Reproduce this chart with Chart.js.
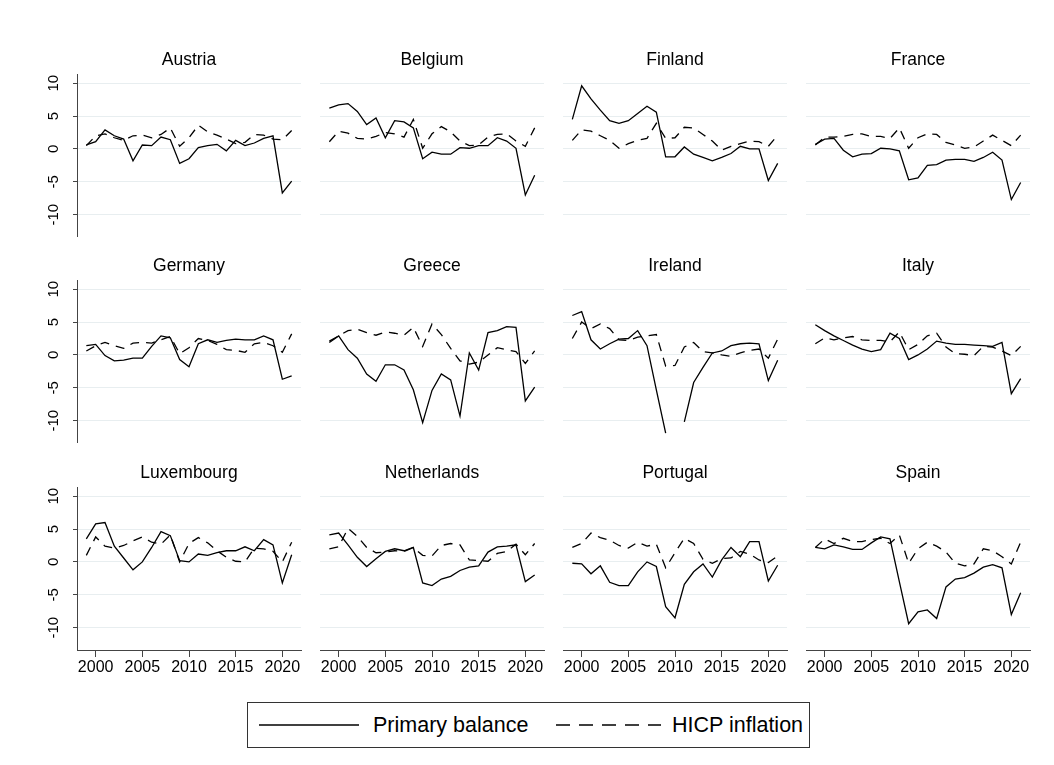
<!DOCTYPE html>
<html>
<head>
<meta charset="utf-8">
<title>Primary balance and HICP inflation</title>
<script src="https://cdn.jsdelivr.net/npm/chart.js@4.4.0/dist/chart.umd.min.js"></script>
<style>
  body { margin: 0; background: #fff; }
  #wrap { position: relative; width: 1054px; height: 765px; overflow: hidden; font-family: "Liberation Sans", Arial, sans-serif; }
  #wrap canvas { position: absolute; }
  #legend { position: absolute; left: 247px; top: 702px; width: 563px; height: 46px; border: 1px solid #333; box-sizing: border-box; }
  #legend svg { position: absolute; left: 0; top: 0; }
  #legend span { position: absolute; top: 0; line-height: 44px; font-size: 21.5px; color: #000; white-space: nowrap; }
</style>
</head>
<body>
<div id="wrap">
  <div id="legend">
    <svg width="561" height="44">
      <line x1="11" y1="22" x2="111" y2="22" stroke="#000" stroke-width="1.6"/>
      <line x1="308" y1="22" x2="413" y2="22" stroke="#000" stroke-width="1.6" stroke-dasharray="14 9"/>
    </svg>
    <span id="lab0" style="left:125px"></span>
    <span id="lab1" style="left:424px"></span>
  </div>
</div>
<script>
const years = [1999, 2000, 2001, 2002, 2003, 2004, 2005, 2006, 2007, 2008, 2009, 2010,
               2011, 2012, 2013, 2014, 2015, 2016, 2017, 2018, 2019, 2020, 2021];
const countries = ["Austria", "Belgium", "Finland", "France", "Germany", "Greece",
                   "Ireland", "Italy", "Luxembourg", "Netherlands", "Portugal", "Spain"];
const seriesLabels = ["Primary balance", "HICP inflation"];
const xTicks = [2000, 2005, 2010, 2015, 2020];
const yTicks = [-10, -5, 0, 5, 10];

// primary balance (solid) and HICP inflation (dashed), % , 1999-2021
const pbAustria = [0.6, 1.1, 2.9, 2.0, 1.5, -1.8, 0.6, 0.5, 1.8, 1.4, -2.2, -1.5, 0.2, 0.5, 0.7, -0.3, 1.3, 0.5, 0.9, 1.6, 2.0, -6.7, -4.9];
const hicpAustria = [0.5, 2.0, 2.3, 1.7, 1.3, 2.0, 2.1, 1.7, 2.2, 3.2, 0.4, 1.7, 3.6, 2.6, 2.1, 1.5, 0.8, 1.0, 2.2, 2.1, 1.5, 1.4, 2.8];
const pbBelgium = [6.2, 6.7, 6.9, 5.7, 3.7, 4.7, 1.7, 4.3, 4.1, 3.2, -1.5, -0.5, -0.8, -0.8, 0.2, 0.1, 0.5, 0.5, 1.7, 1.2, 0.1, -7.0, -4.0];
const hicpBelgium = [1.1, 2.7, 2.4, 1.6, 1.5, 1.9, 2.5, 2.3, 1.8, 4.5, 0.1, 2.3, 3.4, 2.6, 1.2, 0.5, 0.6, 1.8, 2.2, 2.3, 1.2, 0.4, 3.2];
const pbFinland = [4.5, 9.6, 7.6, 5.9, 4.3, 3.9, 4.3, 5.4, 6.5, 5.6, -1.2, -1.2, 0.3, -0.8, -1.3, -1.8, -1.3, -0.7, 0.4, 0.0, 0.0, -4.8, -2.2];
const hicpFinland = [1.3, 2.9, 2.7, 2.0, 1.3, 0.1, 0.8, 1.3, 1.6, 3.9, 1.6, 1.7, 3.3, 3.2, 2.2, 1.2, -0.2, 0.4, 0.8, 1.2, 1.1, 0.4, 2.1];
const pbFrance = [0.7, 1.5, 1.6, -0.2, -1.2, -0.8, -0.7, 0.1, 0.0, -0.3, -4.7, -4.4, -2.5, -2.4, -1.7, -1.6, -1.6, -1.9, -1.3, -0.5, -1.7, -7.7, -5.1];
const hicpFrance = [0.6, 1.8, 1.8, 1.9, 2.2, 2.3, 1.9, 1.9, 1.6, 3.2, 0.1, 1.7, 2.3, 2.2, 1.0, 0.6, 0.1, 0.3, 1.2, 2.1, 1.3, 0.5, 2.1];
const pbGermany = [1.4, 1.6, -0.1, -0.9, -0.8, -0.5, -0.5, 1.3, 2.9, 2.6, -0.7, -1.8, 1.7, 2.3, 1.9, 2.2, 2.4, 2.3, 2.3, 2.9, 2.3, -3.7, -3.2];
const hicpGermany = [0.6, 1.4, 1.9, 1.4, 1.0, 1.8, 1.9, 1.8, 2.3, 2.8, 0.2, 1.1, 2.5, 2.2, 1.6, 0.8, 0.7, 0.4, 1.7, 1.9, 1.4, 0.4, 3.2];
const pbGreece = [1.9, 2.9, 0.8, -0.5, -2.9, -4.0, -1.5, -1.5, -2.3, -5.3, -10.3, -5.4, -2.9, -3.8, -9.3, 0.3, -2.3, 3.4, 3.7, 4.3, 4.2, -7.0, -4.9];
const hicpGreece = [2.1, 2.9, 3.7, 3.9, 3.4, 3.0, 3.5, 3.3, 3.0, 4.2, 1.3, 4.7, 3.1, 1.0, -0.9, -1.4, -1.1, 0.0, 1.1, 0.8, 0.5, -1.3, 0.6];
const pbIreland = [6.0, 6.6, 2.3, 0.9, 1.7, 2.4, 2.5, 3.7, 1.4, -5.3, -11.9, null, -10.2, -4.2, -1.9, 0.3, 0.6, 1.4, 1.7, 1.8, 1.7, -3.9, -0.8];
const hicpIreland = [2.5, 5.0, 4.0, 4.7, 4.0, 2.3, 2.2, 2.7, 2.9, 3.1, -1.7, -1.6, 1.2, 1.9, 0.5, 0.3, 0.0, -0.2, 0.3, 0.7, 0.9, -0.5, 2.4];
const pbItaly = [4.6, 3.7, 2.9, 2.2, 1.5, 0.9, 0.5, 0.8, 3.3, 2.5, -0.7, 0.0, 0.9, 2.1, 1.8, 1.6, 1.6, 1.5, 1.4, 1.3, 1.9, -5.9, -3.6];
const hicpItaly = [1.7, 2.6, 2.3, 2.6, 2.8, 2.3, 2.2, 2.2, 2.0, 3.5, 0.8, 1.6, 2.9, 3.3, 1.2, 0.2, 0.1, -0.1, 1.3, 1.2, 0.6, -0.1, 1.3];
const pbLuxembourg = [3.5, 5.8, 6.0, 2.4, 0.6, -1.2, 0.0, 2.2, 4.6, 4.0, 0.2, 0.0, 1.2, 1.0, 1.4, 1.7, 1.7, 2.3, 1.7, 3.4, 2.6, -3.2, 1.1];
const hicpLuxembourg = [1.0, 3.8, 2.4, 2.1, 2.5, 3.2, 3.8, 3.0, 2.7, 4.1, 0.0, 2.8, 3.7, 2.9, 1.7, 0.7, 0.1, 0.0, 2.1, 2.0, 1.6, 0.0, 3.0];
const pbNetherlands = [4.1, 4.4, 2.6, 0.7, -0.7, 0.5, 1.6, 2.0, 1.7, 2.2, -3.2, -3.6, -2.6, -2.2, -1.3, -0.8, -0.6, 1.5, 2.3, 2.4, 2.6, -3.0, -2.0];
const hicpNetherlands = [2.0, 2.3, 5.1, 3.9, 2.2, 1.4, 1.5, 1.7, 1.6, 2.2, 1.0, 0.9, 2.5, 2.8, 2.6, 0.3, 0.2, 0.1, 1.3, 1.6, 2.7, 1.1, 2.8];
const pbPortugal = [-0.2, -0.3, -1.8, -0.6, -3.1, -3.6, -3.6, -1.5, 0.0, -0.7, -6.8, -8.5, -3.4, -1.5, -0.3, -2.3, 0.3, 2.2, 0.8, 3.1, 3.1, -2.9, -0.5];
const hicpPortugal = [2.2, 2.8, 4.4, 3.7, 3.3, 2.5, 2.1, 3.0, 2.4, 2.7, -0.9, 1.4, 3.6, 2.8, 0.4, -0.2, 0.5, 0.6, 1.6, 1.2, 0.3, -0.1, 0.9];
const pbSpain = [2.2, 2.0, 2.6, 2.3, 1.9, 1.9, 2.9, 3.8, 3.5, -3.0, -9.4, -7.6, -7.3, -8.6, -3.8, -2.6, -2.4, -1.7, -0.8, -0.4, -0.9, -8.0, -4.7];
const hicpSpain = [2.2, 3.5, 2.8, 3.6, 3.1, 3.1, 3.4, 3.6, 2.8, 4.1, -0.2, 2.0, 3.0, 2.4, 1.5, -0.2, -0.6, -0.3, 2.0, 1.7, 0.8, -0.3, 3.0];

const panels = [
    [pbAustria, hicpAustria], [pbBelgium, hicpBelgium], [pbFinland, hicpFinland], [pbFrance, hicpFrance],
    [pbGermany, hicpGermany], [pbGreece, hicpGreece], [pbIreland, hicpIreland], [pbItaly, hicpItaly],
    [pbLuxembourg, hicpLuxembourg], [pbNetherlands, hicpNetherlands], [pbPortugal, hicpPortugal], [pbSpain, hicpSpain]
];

const FONT = '"Liberation Sans", Arial, sans-serif';
const GRID = "#e8eef0";
const AXIS = "#444";

// plot area of each panel on the page
const colLeft = [77, 320, 563, 806];
const rowTop = [74, 280, 487];
const plotW = 224, plotH = 163;
const titleH = 30, yAxisW = 43, xAxisH = 34, pad = 4;

document.getElementById("lab0").textContent = seriesLabels[0];
document.getElementById("lab1").textContent = seriesLabels[1];

// stata style vertical y labels (read bottom to top)
const yLabelPlugin = {
    id: "yLabels",
    afterDraw(chart, args, opts) {
        if (!opts.show) return;
        const ctx = chart.ctx;
        const scale = chart.scales.y;
        ctx.save();
        ctx.font = "15px " + FONT;
        ctx.fillStyle = "#000";
        ctx.textAlign = "center";
        ctx.textBaseline = "middle";
        scale.ticks.forEach(t => {
            ctx.save();
            ctx.translate(scale.right - 23, scale.getPixelForValue(t.value));
            ctx.rotate(-Math.PI / 2);
            ctx.fillText(String(t.value), 0, 0);
            ctx.restore();
        });
        ctx.restore();
    }
};

const wrap = document.getElementById("wrap");

countries.forEach((name, i) => {
    const r = Math.floor(i / 4), c = i % 4;
    const firstCol = c === 0, lastRow = r === 2;
    const yw = firstCol ? yAxisW : 0;
    const xh = lastRow ? xAxisH : 0;

    const cv = document.createElement("canvas");
    const w = pad + yw + plotW + pad;
    const h = titleH + plotH + xh;
    cv.width = w; cv.height = h;
    cv.style.width = w + "px"; cv.style.height = h + "px";
    cv.style.left = (colLeft[c] - yw - pad) + "px";
    cv.style.top = (rowTop[r] - titleH) + "px";
    wrap.appendChild(cv);

    const [pb, hicp] = panels[i];
    const toXY = arr => years.map((yr, k) => ({ x: yr, y: arr[k] }));

    new Chart(cv, {
        type: "line",
        data: {
            datasets: [{
                label: seriesLabels[0],
                data: toXY(pb),
                borderColor: "#000",
                borderWidth: 1.3,
                pointRadius: 0,
                spanGaps: false
            }, {
                label: seriesLabels[1],
                data: toXY(hicp),
                borderColor: "#000",
                borderWidth: 1.3,
                borderDash: [9, 7],
                pointRadius: 0
            }]
        },
        options: {
            responsive: false,
            animation: false,
            devicePixelRatio: 1,
            layout: { padding: { left: pad, right: pad, top: 0, bottom: 0 } },
            plugins: {
                legend: { display: false },
                tooltip: { enabled: false },
                title: {
                    display: true,
                    text: name,
                    fullSize: false,
                    color: "#000",
                    font: { family: FONT, size: 17.5, weight: "normal" },
                    padding: { top: 5.3, bottom: 3.7 }
                },
                yLabels: { show: firstCol }
            },
            scales: {
                x: {
                    type: "linear",
                    min: 1998,
                    max: 2022,
                    display: true,
                    afterBuildTicks: s => { s.ticks = xTicks.map(v => ({ value: v })); },
                    afterFit: s => { s.height = xh; },
                    grid: {
                        drawOnChartArea: false,
                        drawTicks: lastRow,
                        tickLength: 7,
                        tickColor: AXIS,
                        tickWidth: 1
                    },
                    border: { display: lastRow, color: AXIS, width: 1 },
                    ticks: {
                        display: lastRow,
                        color: "#000",
                        padding: 1,
                        maxRotation: 0,
                        font: { family: FONT, size: 16 },
                        callback: v => String(v)
                    }
                },
                y: {
                    type: "linear",
                    min: -13.4,
                    max: 11.4,
                    display: true,
                    afterBuildTicks: s => { s.ticks = yTicks.map(v => ({ value: v })); },
                    afterFit: s => { s.width = yw; },
                    grid: {
                        color: GRID,
                        lineWidth: 1,
                        drawTicks: firstCol,
                        tickLength: 4,
                        tickColor: AXIS
                    },
                    border: { display: firstCol, color: AXIS, width: 1 },
                    ticks: { display: false }
                }
            }
        },
        plugins: [yLabelPlugin]
    });
});
</script>
</body>
</html>
